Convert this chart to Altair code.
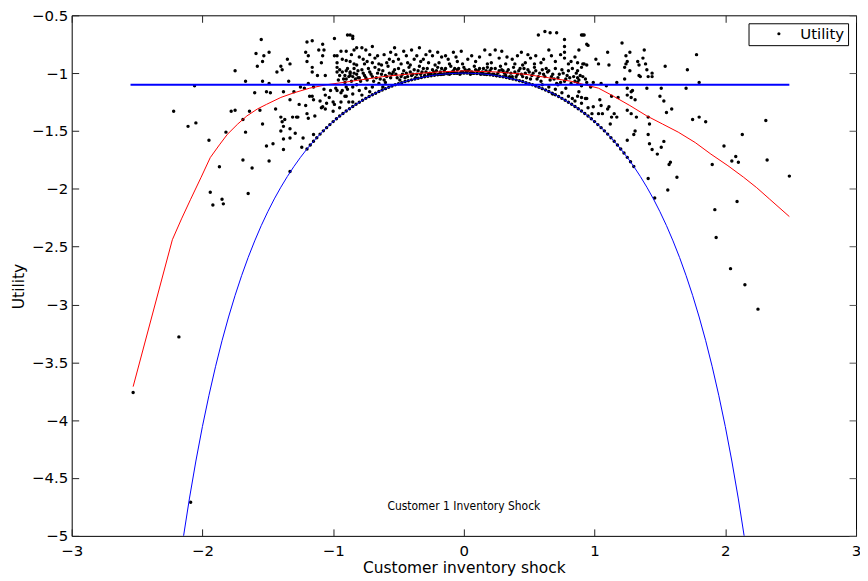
import altair as alt
import pandas as pd

# ---------------- data ----------------
x_ticks = [-3, -2, -1, 0, 1, 2, 3]
y_ticks = [-5, -4.5, -4, -3.5, -3, -2.5, -2, -1.5, -1, -0.5]

series_name = ["Utility"]

cloud_left = [
    (-2.22, -1.33), (-2.11, -1.46), (-2.05, -1.43), (-2.06, -1.11), (-1.95, -1.58), (-1.87, -1.81), (-1.94, -2.03), (-1.85, -2.09),
    (-1.92, -2.14), (-1.84, -2.13), (-1.82, -1.51), (-1.78, -1.33), (-1.75, -1.32), (-1.75, -0.98), (-1.69, -1.40), (-1.69, -1.75),
    (-1.67, -1.07), (-1.67, -1.51), (-1.65, -2.04), (-1.64, -1.33), (-1.62, -1.82), (-1.60, -1.17), (-1.59, -0.83), (-1.58, -0.94),
    (-1.54, -0.90), (-1.55, -0.71), (-1.53, -0.85), (-1.49, -0.82), (-1.56, -1.32), (-1.54, -1.44), (-1.54, -1.07), (-1.51, -1.16),
    (-1.51, -1.63), (-1.49, -1.76), (-1.49, -1.09), (-1.48, -1.17), (-1.46, -1.61), (-1.44, -1.31), (-1.43, -0.99), (-1.40, -0.94),
    (-1.39, -0.97), (-1.38, -1.16), (-1.40, -1.38), (-1.39, -1.42), (-1.38, -1.46), (-1.40, -1.50), (-1.38, -1.57), (-1.38, -1.66),
    (-1.37, -1.40), (-1.35, -0.88), (-1.33, -0.92), (-1.34, -1.07), (-1.33, -1.23), (-1.33, -1.56), (-1.33, -1.48), (-1.33, -1.85),
    (-1.31, -1.38), (-1.30, -1.16), (-1.29, -1.52), (-1.28, -1.38), (-1.27, -1.38), (-1.26, -1.27), (-1.25, -1.12), (-1.24, -1.64),
    (-1.23, -1.56), (-1.22, -1.13), (-1.21, -1.28), (-1.20, -0.73), (-1.21, -0.82), (-1.20, -0.90), (-1.19, -0.85), (-1.19, -1.09),
    (-1.18, -1.20), (-1.20, -1.35), (-1.19, -1.39), (-1.16, -0.72), (-1.16, -0.95), (-1.16, -0.99), (-1.15, -1.12), (-1.16, -1.20),
    (-1.15, -1.23), (-1.15, -1.53), (-1.14, -1.37), (-1.11, -0.80), (-1.12, -1.02), (-1.10, -1.24), (-1.09, -0.91), (-1.08, -0.75),
    (-1.07, -0.80), (-1.08, -0.85), (-1.09, -1.30), (-1.08, -1.29), (-1.06, -1.31), (-1.07, -1.14), (-1.06, -1.19), (-1.06, -1.02),
    (-1.05, -1.26), (-1.03, -1.21), (-1.02, -1.15), (-1.00, -1.25), (-0.99, -0.70), (-0.99, -0.85), (-0.97, -0.85), (-0.97, -0.95),
    (-0.97, -0.99), (-0.98, -1.13), (-0.97, -1.15), (-0.99, -1.27), (-0.97, -0.91), (-0.95, -0.97), (-0.94, -0.81), (-0.94, -1.17),
    (-0.94, -1.25), (-0.91, -1.02), (-0.90, -0.89), (-0.90, -1.05), (-0.91, -1.20), (-0.90, -1.12), (-0.89, -1.14), (-0.89, -0.67),
    (-0.87, -0.99), (-0.87, -1.02), (-0.86, -0.84), (-0.85, -0.68), (-0.85, -1.12), (-0.85, -1.25), (-0.84, -0.80), (-0.84, -1.00),
    (-0.82, -0.93), (-0.82, -1.10), (-0.81, -1.04),
    (-0.90, -1.20), (-0.85, -1.18), (-0.80, -1.15), (-0.75, -1.13), (-0.70, -1.12), (-0.65, -1.09), (-0.60, -1.08),
    (-0.78, -1.19), (-0.88, -1.25), (-0.95, -1.30), (-1.00, -1.33), (-0.93, -1.15), (-0.72, -1.16), (-0.62, -1.12),
]

cloud_top = [
    (-0.87, -0.67), (-0.85, -0.70), (-0.90, -0.81), (-0.82, -0.78), (-0.78, -0.78), (-0.75, -0.80), (-0.70, -0.77), (-0.72, -0.84),
    (-0.87, -0.90), (-0.84, -0.92), (-0.77, -0.88), (-0.76, -0.92), (-0.70, -0.91), (-0.66, -0.85), (-0.65, -0.92), (-0.61, -0.84),
    (-0.59, -0.91), (-0.57, -0.88), (-0.54, -0.90), (-0.53, -0.78), (-0.52, -0.84), (-0.48, -0.92), (-0.44, -0.85), (-0.43, -0.91),
    (-0.40, -0.80), (-0.38, -0.88), (-0.34, -0.78), (-0.33, -0.90), (-0.29, -0.84), (-0.27, -0.91), (-0.24, -0.85), (-0.20, -0.82),
    (-0.19, -0.91), (-0.14, -0.85), (-0.11, -0.92), (-0.08, -0.82), (-0.05, -0.90), (-0.01, -0.92), (0.06, -0.85), (0.09, -0.90),
    (0.16, -0.80), (0.20, -0.84), (0.21, -0.91), (0.27, -0.87), (0.29, -0.81), (0.32, -0.92), (0.37, -0.88), (0.39, -0.92),
    (0.44, -0.82), (0.47, -0.91), (0.49, -0.84), (0.51, -0.87), (0.54, -0.92), (0.57, -0.67), (0.62, -0.64), (0.66, -0.65),
    (0.71, -0.65), (0.65, -0.80), (0.67, -0.85), (0.59, -0.91), (0.77, -0.71), (0.77, -0.77), (0.77, -0.82), (0.77, -0.87),
    (0.80, -0.92), (0.82, -0.90), (0.91, -0.67), (0.94, -0.75), (0.92, -0.92), (0.87, -0.98),
    (-0.93, -0.88), (-0.80, -0.86), (-0.74, -0.90), (-0.68, -0.87), (-0.63, -0.93), (-0.56, -0.82), (-0.50, -0.88), (-0.46, -0.81),
    (-0.41, -0.93), (-0.36, -0.85), (-0.31, -0.88), (-0.26, -0.81), (-0.22, -0.93), (-0.17, -0.86), (-0.12, -0.88), (-0.06, -0.86),
    (-0.02, -0.81), (0.03, -0.88), (0.12, -0.86), (0.18, -0.92), (0.24, -0.80), (0.33, -0.86), (0.41, -0.85), (0.45, -0.93),
    (0.55, -0.85), (0.61, -0.88), (0.70, -0.90), (0.74, -0.84), (0.85, -0.86), (0.88, -0.80),
]

band = [
    (-0.95, -1.02), (-0.92, -1.05), (-0.90, -0.98), (-0.88, -1.03), (-0.86, -1.07), (-0.84, -0.96), (-0.82, -1.01), (-0.80, -1.04),
    (-0.78, -0.97), (-0.76, -1.02), (-0.74, -1.06), (-0.72, -0.99), (-0.70, -1.03), (-0.68, -0.95), (-0.66, -1.00), (-0.64, -1.05),
    (-0.62, -0.98), (-0.60, -1.02), (-0.58, -0.94), (-0.56, -1.04), (-0.54, -0.99), (-0.52, -1.01), (-0.50, -0.96), (-0.48, -1.03),
    (-0.46, -0.98), (-0.44, -1.00), (-0.42, -0.95), (-0.40, -1.02), (-0.38, -0.97), (-0.36, -1.01), (-0.34, -0.94), (-0.32, -0.99),
    (-0.30, -1.02), (-0.28, -0.96), (-0.26, -1.00), (-0.24, -0.97), (-0.22, -1.01), (-0.20, -0.95), (-0.18, -0.99), (-0.16, -1.01),
    (-0.14, -0.96), (-0.12, -1.00), (-0.10, -0.94), (-0.08, -0.98), (-0.06, -1.00), (-0.04, -0.96), (-0.02, -0.99), (0.00, -0.95),
    (0.02, -0.99), (0.04, -0.97), (0.06, -0.99), (0.08, -0.94), (0.10, -1.00), (0.12, -0.96), (0.14, -0.99), (0.16, -1.01),
    (0.18, -0.95), (0.20, -0.98), (0.22, -1.01), (0.24, -0.96), (0.26, -1.00), (0.28, -0.94), (0.30, -0.98), (0.32, -1.02),
    (0.34, -0.97), (0.36, -1.00), (0.38, -0.95), (0.40, -1.03), (0.42, -0.98), (0.44, -1.01), (0.46, -0.96), (0.48, -1.04),
    (0.50, -0.99), (0.52, -1.02), (0.54, -0.95), (0.56, -1.05), (0.58, -1.00), (0.60, -0.97), (0.62, -1.03), (0.64, -0.99),
    (0.66, -1.06), (0.68, -1.01), (0.70, -0.96), (0.72, -1.04), (0.74, -1.08), (0.76, -1.00), (0.78, -1.05), (0.80, -0.98),
    (0.82, -1.09), (0.84, -1.03), (0.86, -1.00), (0.88, -1.06), (0.90, -1.11),
    (-0.93, -0.99), (-0.87, -1.00), (-0.83, -1.05), (-0.77, -1.00), (-0.73, -0.96), (-0.69, -1.07), (-0.65, -0.97), (-0.61, -1.06),
    (-0.57, -1.00), (-0.53, -0.97), (-0.49, -1.06), (-0.45, -1.04), (-0.41, -0.99), (-0.37, -1.04), (-0.33, -1.01), (-0.29, -0.99),
    (-0.25, -1.01), (-0.21, -0.98), (-0.17, -0.96), (-0.13, -1.00), (-0.09, -0.99), (-0.05, -0.97), (-0.01, -0.99), (0.03, -0.98),
    (0.07, -1.00), (0.11, -0.98), (0.15, -0.96), (0.19, -1.00), (0.23, -1.01), (0.27, -0.98), (0.31, -1.00), (0.35, -1.03),
    (0.39, -0.99), (0.43, -0.96), (0.47, -1.00), (0.51, -1.05), (0.55, -0.98), (0.59, -1.07), (0.63, -0.96), (0.67, -1.03),
    (0.71, -1.09), (0.75, -0.97), (0.79, -1.02), (0.83, -0.96), (0.87, -1.04),
    (-0.96, -1.06), (-0.91, -1.08), (-0.89, -0.96), (-0.85, -1.03), (-0.81, -0.98), (-0.79, -1.07), (-0.75, -1.04), (-0.71, -1.01),
    (-0.67, -1.04), (-0.63, -1.01), (-0.59, -1.03), (-0.55, -1.01), (-0.51, -1.04), (-0.47, -1.01), (-0.43, -1.03), (-0.39, -1.01),
    (-0.35, -0.98), (-0.31, -0.96), (-0.27, -1.01), (-0.23, -0.99), (-0.19, -1.01), (-0.15, -0.98), (-0.11, -1.01), (-0.07, -0.96),
    (-0.03, -1.01), (0.01, -0.97), (0.05, -1.01), (0.09, -0.97), (0.13, -1.01), (0.17, -0.98), (0.21, -0.96), (0.25, -1.02),
    (0.29, -0.97), (0.33, -0.99), (0.37, -1.03), (0.41, -1.01), (0.45, -1.03), (0.49, -0.97), (0.53, -1.00), (0.57, -1.03),
    (0.61, -1.01), (0.65, -0.98), (0.69, -1.05), (0.73, -1.01), (0.77, -1.07), (0.81, -1.04), (0.85, -1.07), (0.89, -1.02),
    (0.93, -1.05), (0.97, -1.12),
    (0.60, -1.10), (0.65, -1.12), (0.70, -1.14), (0.75, -1.17), (0.80, -1.20), (0.85, -1.24), (0.90, -1.26), (0.95, -1.30),
    (0.68, -1.18), (0.78, -1.13), (0.88, -1.16), (0.72, -1.10), (0.83, -1.22), (0.93, -1.22), (0.98, -1.35),
]

on_curve = [
    (-1.200, -1.655), (-1.175, -1.622), (-1.150, -1.589), (-1.125, -1.558), (-1.100, -1.527), (-1.075, -1.499), (-1.050, -1.471),
    (-1.025, -1.445), (-1.000, -1.419), (-0.975, -1.395), (-0.950, -1.371), (-0.925, -1.349), (-0.900, -1.328), (-0.875, -1.308),
    (-0.850, -1.288), (-0.825, -1.269), (-0.800, -1.251), (-0.775, -1.234), (-0.750, -1.218), (-0.725, -1.202), (-0.700, -1.187),
    (-0.675, -1.173), (-0.650, -1.159), (-0.625, -1.146), (-0.600, -1.134), (-0.575, -1.123), (-0.550, -1.112), (-0.525, -1.101),
    (-0.500, -1.091), (-0.475, -1.082), (-0.450, -1.073), (-0.425, -1.065), (-0.400, -1.058), (-0.375, -1.051), (-0.350, -1.044),
    (-0.325, -1.038), (-0.300, -1.032), (-0.275, -1.027), (-0.250, -1.022), (-0.225, -1.018), (-0.200, -1.014), (-0.175, -1.011),
    (-0.150, -1.008), (-0.125, -1.006), (-0.100, -1.004), (-0.075, -1.002), (-0.050, -1.001), (-0.025, -1.000), (0.000, -1.000),
    (0.025, -1.000), (0.050, -1.001), (0.075, -1.002), (0.100, -1.004), (0.125, -1.006), (0.150, -1.008), (0.175, -1.011),
    (0.200, -1.014), (0.225, -1.018), (0.250, -1.022), (0.275, -1.027), (0.300, -1.032), (0.325, -1.038), (0.350, -1.044),
    (0.375, -1.051), (0.400, -1.058), (0.425, -1.065), (0.450, -1.073), (0.475, -1.082), (0.500, -1.091), (0.525, -1.101),
    (0.550, -1.112), (0.575, -1.123), (0.600, -1.134), (0.625, -1.146), (0.650, -1.159), (0.675, -1.173), (0.700, -1.187),
    (0.725, -1.202), (0.750, -1.218), (0.775, -1.234), (0.800, -1.251), (0.825, -1.269), (0.850, -1.288), (0.875, -1.308),
    (0.900, -1.328), (0.925, -1.349), (0.950, -1.371), (0.975, -1.395), (1.000, -1.419), (1.025, -1.445), (1.050, -1.471),
    (1.075, -1.499), (1.100, -1.527), (1.125, -1.558), (1.150, -1.589), (1.175, -1.622), (1.200, -1.655), (1.225, -1.691),
    (1.250, -1.728), (1.275, -1.766), (1.300, -1.807), (1.460, -2.080),
]

cloud_right = [
    (0.90, -0.67), (0.92, -0.67), (0.95, -0.76), (0.87, -0.91), (0.91, -0.92), (0.94, -0.93), (0.90, -0.95), (0.91, -1.03),
    (0.87, -1.08), (0.94, -1.08), (0.99, -1.08), (1.05, -1.09), (0.87, -1.20), (0.90, -1.21), (0.94, -1.22), (0.99, -1.29),
    (1.04, -1.23), (1.05, -1.28), (1.03, -1.35), (1.06, -1.35), (1.10, -1.31), (1.11, -1.29), (1.13, -1.38), (1.15, -1.35),
    (1.17, -1.38), (1.12, -1.44), (1.01, -0.88), (1.03, -0.92), (1.10, -0.82), (1.11, -0.93), (1.09, -1.11), (1.17, -1.08),
    (1.13, -1.20), (1.18, -1.21), (1.21, -0.74), (1.24, -0.85), (1.25, -0.90), (1.24, -0.92), (1.23, -0.95), (1.27, -0.82),
    (1.27, -0.98), (1.23, -1.05), (1.25, -1.13), (1.28, -1.16), (1.29, -1.15), (1.25, -1.19), (1.28, -1.21), (1.31, -1.23),
    (1.25, -1.32), (1.28, -1.35), (1.32, -1.38), (1.25, -1.58), (1.31, -1.50), (1.30, -1.53), (1.33, -0.90), (1.34, -0.93),
    (1.35, -1.03), (1.34, -1.02), (1.38, -0.80), (1.37, -0.87), (1.39, -0.92), (1.40, -0.97), (1.44, -1.00), (1.41, -1.03),
    (1.44, -1.03), (1.40, -1.13), (1.41, -1.38), (1.42, -1.44), (1.41, -1.53), (1.42, -1.61), (1.44, -1.66), (1.48, -1.70),
    (1.51, -1.64), (1.53, -1.59), (1.41, -1.91), (1.50, -1.20), (1.53, -1.24), (1.51, -1.13), (1.54, -0.94), (1.55, -1.34),
    (1.59, -1.31), (1.57, -1.79), (1.58, -1.77), (1.56, -2.01), (1.63, -1.90), (1.70, -1.13), (1.71, -0.97), (1.75, -1.40),
    (1.80, -1.38), (1.85, -1.42), (1.78, -0.84), (1.80, -1.08), (1.90, -1.79), (1.99, -1.63), (2.05, -1.76), (2.08, -1.72),
    (2.10, -1.77), (2.13, -1.53), (2.31, -1.41), (2.32, -1.75), (2.49, -1.89),
    (1.92, -2.18), (2.09, -2.11), (1.93, -2.42), (2.04, -2.69), (2.15, -2.83), (2.25, -3.04),
]

outliers_left = [(-2.53, -3.76), (-2.18, -3.28), (-2.09, -4.71)]

# fitted curves
blue_x = [-2.15, -2.10, -2.05, -2.00, -1.95, -1.90, -1.85, -1.80, -1.75, -1.70, -1.65, -1.60, -1.55, -1.50, -1.45,
          -1.40, -1.35, -1.30, -1.25, -1.20, -1.15, -1.10, -1.05, -1.00, -0.95, -0.90, -0.85, -0.80, -0.75, -0.70,
          -0.65, -0.60, -0.55, -0.50, -0.45, -0.40, -0.35, -0.30, -0.25, -0.20, -0.15, -0.10, -0.05, 0.00,
          0.05, 0.10, 0.15, 0.20, 0.25, 0.30, 0.35, 0.40, 0.45, 0.50, 0.55, 0.60, 0.65, 0.70, 0.75, 0.80, 0.85,
          0.90, 0.95, 1.00, 1.05, 1.10, 1.15, 1.20, 1.25, 1.30, 1.35, 1.40, 1.45, 1.50, 1.55, 1.60, 1.65, 1.70,
          1.75, 1.80, 1.85, 1.90, 1.95, 2.00, 2.05, 2.10, 2.15]
blue_y = [-5.042, -4.681, -4.353, -4.055, -3.785, -3.538, -3.313, -3.108, -2.921, -2.750, -2.593, -2.450, -2.318, -2.198, -2.087,
          -1.986, -1.893, -1.807, -1.728, -1.655, -1.589, -1.527, -1.471, -1.419, -1.371, -1.328, -1.288, -1.251, -1.218, -1.187,
          -1.159, -1.134, -1.112, -1.091, -1.073, -1.058, -1.044, -1.032, -1.022, -1.014, -1.008, -1.004, -1.001, -1.000,
          -1.001, -1.004, -1.008, -1.014, -1.022, -1.032, -1.044, -1.058, -1.073, -1.091, -1.112, -1.134, -1.159, -1.187, -1.218,
          -1.251, -1.288, -1.328, -1.371, -1.419, -1.471, -1.527, -1.589, -1.655, -1.728, -1.807, -1.893, -1.986, -2.087, -2.198,
          -2.318, -2.450, -2.593, -2.750, -2.921, -3.108, -3.313, -3.538, -3.785, -4.055, -4.353, -4.681, -5.042]

red_x = [-2.53, -2.23, -2.16, -2.09, -2.01, -1.94, -1.87, -1.81, -1.73, -1.66, -1.58, -1.51, -1.40, -1.30, -1.18, -1.05,
         -0.92, -0.80, -0.62, -0.44, -0.20, 0.00, 0.25, 0.47, 0.65, 0.82, 1.03, 1.13, 1.27, 1.40, 1.52, 1.64, 1.77,
         1.89, 2.02, 2.14, 2.24, 2.34, 2.49]
red_y = [-3.71, -2.44, -2.26, -2.09, -1.90, -1.73, -1.62, -1.53, -1.44, -1.37, -1.31, -1.27, -1.21, -1.17, -1.13, -1.10,
         -1.08, -1.06, -1.03, -1.01, -0.99, -0.98, -0.99, -1.01, -1.04, -1.07, -1.13, -1.19, -1.28, -1.37, -1.44, -1.51, -1.60,
         -1.70, -1.80, -1.90, -1.99, -2.09, -2.24]

hline_x = [-2.55, 2.49]
hline_y = [-1.1, -1.1]

note_text = ["Customer 1 Inventory Shock"]
note_x = [0.0]
note_y = [-4.74]

# ---------------- tables ----------------
pts = cloud_left + cloud_top + band + on_curve + cloud_right + outliers_left
scatter_df = pd.DataFrame(pts, columns=["x", "y"])
scatter_df["series"] = series_name[0]
blue_df = pd.DataFrame({"x": blue_x, "y": blue_y})
red_df = pd.DataFrame({"x": red_x, "y": red_y})
hline_df = pd.DataFrame({"x": hline_x, "y": hline_y})
note_df = pd.DataFrame({"x": note_x, "y": note_y, "t": note_text})

FONT = "DejaVu Sans"
xscale = alt.Scale(domain=[-3, 3], nice=False, zero=False)
yscale = alt.Scale(domain=[-5, -0.5], nice=False, zero=False)

TICK = 7

x_main_axis = alt.Axis(orient="bottom", values=x_ticks, format="~g", offset=-TICK, tickSize=TICK, tickWidth=1,
                       domain=False, grid=False, labelFlush=False, labelPadding=8, labelFontSize=15, labelFont=FONT,
                       labelColor="black", tickColor="#222222", title="Customer inventory shock",
                       titleFont=FONT, titleFontSize=15.5, titleFontWeight="normal", titleColor="black",
                       titlePadding=2, zindex=1)
y_main_axis = alt.Axis(orient="left", values=y_ticks, format="~g", offset=-TICK, tickSize=TICK, tickWidth=1,
                       domain=False, grid=False, labelFlush=False, labelPadding=4, labelFontSize=15, labelFont=FONT,
                       labelColor="black", tickColor="#222222", title="Utility",
                       titleFont=FONT, titleFontSize=15.5, titleFontWeight="normal", titleColor="black",
                       titlePadding=5, titleY=272, zindex=1)
x_top_axis = alt.Axis(orient="top", values=x_ticks, offset=-TICK, tickSize=TICK, tickWidth=1, domain=False, grid=False,
                      labels=False, tickColor="#222222", title=None, zindex=1)
y_right_axis = alt.Axis(orient="right", values=y_ticks, offset=-TICK, tickSize=TICK, tickWidth=1, domain=False, grid=False,
                        labels=False, tickColor="#555555", title=None, zindex=1)

points = alt.Chart(scatter_df).mark_circle(size=12, opacity=1).encode(
    x=alt.X("x:Q", scale=xscale, axis=x_main_axis),
    y=alt.Y("y:Q", scale=yscale, axis=y_main_axis),
    color=alt.Color("series:N", scale=alt.Scale(domain=series_name, range=["black"]),
                    legend=alt.Legend(title=None, orient="none", legendX=680, legendY=8,
                                      symbolType="circle", symbolSize=10, symbolOffset=20,
                                      labelOffset=14, labelFont=FONT, labelFontSize=15,
                                      labelColor="black", padding=3, strokeColor="black",
                                      fillColor="white")),
)

blue = alt.Chart(blue_df).mark_line(color="#0000ff", strokeWidth=1, clip=True).encode(
    x=alt.X("x:Q", scale=xscale, axis=x_top_axis),
    y=alt.Y("y:Q", scale=yscale, axis=y_right_axis),
)

red = alt.Chart(red_df).mark_line(color="#ff0000", strokeWidth=1, clip=True).encode(
    x=alt.X("x:Q", scale=xscale, axis=None),
    y=alt.Y("y:Q", scale=yscale, axis=None),
)

hline = alt.Chart(hline_df).mark_line(color="#0000ff", strokeWidth=2).encode(
    x=alt.X("x:Q", scale=xscale, axis=None),
    y=alt.Y("y:Q", scale=yscale, axis=None),
)

note = alt.Chart(note_df).mark_text(font="DejaVu Sans Condensed, Liberation Sans Narrow, Liberation Sans",
                                    fontSize=12, color="black").encode(
    x=alt.X("x:Q", scale=xscale, axis=None),
    y=alt.Y("y:Q", scale=yscale, axis=None),
    text="t:N",
)

chart = alt.layer(points, blue, red, hline, note).resolve_axis(
    x="independent", y="independent"
).properties(
    width=788, height=523,
    autosize=alt.AutoSizeParams(type="none"),
    padding={"left": 64, "top": 6, "right": 4, "bottom": 42},
).configure_view(stroke="black", strokeWidth=1).configure_legend(strokeWidth=1)

chart.save("out.html", embed_options={"renderer": "svg", "actions": False})
